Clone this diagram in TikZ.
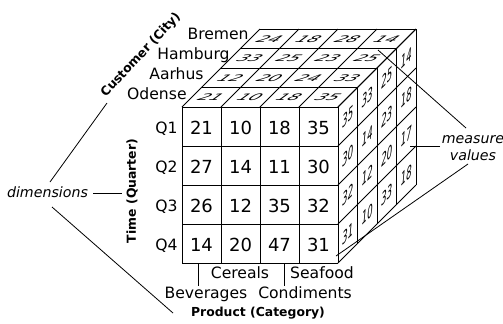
\documentclass[tikz,border=0pt]{standalone}
\usepackage{fontspec}
\setmainfont{DejaVu Sans}
\begin{document}
\begin{tikzpicture}[x=0.5pt,y=-0.5pt,
  grid/.style={line width=0.5pt},
  lead/.style={line width=0.4pt},
  fnum/.style={font=\fontsize{9}{10}\selectfont, inner sep=0pt},
  lab/.style={font=\fontsize{7.8}{9}\selectfont, inner sep=0pt},
  ttl/.style={font=\bfseries\fontsize{6.2}{7}\selectfont, inner sep=0pt},
  ann/.style={font=\itshape\fontsize{7.1}{8}\selectfont, inner sep=0pt},
  topnum/.style={font=\itshape\fontsize{9}{10}\selectfont, inner sep=0pt, cm={1,0,0.5,0.5,(0,0)}},
  sidenum/.style={font=\itshape\fontsize{8.5}{9}\selectfont, inner sep=0pt, cm={0.5,0.5,0,1,(0,0)}},
]
\fill[white] (0,0) rectangle (503,323);
\useasboundingbox (0,0) rectangle (503,323);

% cube grid
\foreach \i in {0,...,4}{
  \draw[grid] ({182+39*\i},107) -- ({182+39*\i},263);
  \draw[grid] (182,{107+39*\i}) -- (338,{107+39*\i});
  \draw[grid] ({182+39*\i},107) -- ({260+39*\i},29);
  \draw[grid] ({182+19.5*\i},{107-19.5*\i}) -- ({338+19.5*\i},{107-19.5*\i});
  \draw[grid] ({338+19.5*\i},{107-19.5*\i}) -- ({338+19.5*\i},{263-19.5*\i});
  \draw[grid] (338,{107+39*\i}) -- (416,{29+39*\i});
}

% front face values
\foreach \v [count=\k from 0] in {21,10,18,35,27,14,11,30,26,12,35,32,14,20,47,31}{
  \pgfmathtruncatemacro\c{mod(\k,4)}
  \pgfmathtruncatemacro\r{div(\k,4)}
  \node[fnum] (f\k) at ({201.5+39*\c},{127.5+39*\r}) {\v};
}
% top face values
\foreach \v [count=\k from 0] in {24,18,28,14,33,25,23,25,12,20,24,33,21,10,18,35}{
  \pgfmathtruncatemacro\c{mod(\k,4)}
  \pgfmathtruncatemacro\r{div(\k,4)}
  \node[topnum] (t\k) at ({182+39*(\c+0.5)+19.5*(3.5-\r)},{107-19.5*(3.5-\r)}) {\v};
}
% right face values
\foreach \v [count=\k from 0] in {35,33,25,14,30,14,23,18,32,12,20,17,31,10,33,18}{
  \pgfmathtruncatemacro\d{mod(\k,4)}
  \pgfmathtruncatemacro\q{div(\k,4)}
  \node[sidenum] (s\k) at ({338+19.5*(\d+0.5)},{107+39*(\q+0.5)-19.5*(\d+0.5)}) {\v};
}

% customer labels
\node[lab, anchor=base east] (bremen) at (249,39) {Bremen};
\node[lab, anchor=base east] (hamburg) at (230,59) {Hamburg};
\node[lab, anchor=base east] (aarhus) at (204,79) {Aarhus};
\node[lab, anchor=base east] (odense) at (187,99) {Odense};

% quarter labels
\foreach \t [count=\r from 0] in {Q1,Q2,Q3,Q4}{
  \node[lab, anchor=base east] (q\r) at (178,{133+39*\r}) {\t};
}

% product labels
\node[lab, anchor=base] (cer) at (240,278) {Cereals};
\node[lab, anchor=base] (sea) at (322,278) {Seafood};
\node[lab, anchor=base] (bev) at (206,298) {Beverages};
\node[lab, anchor=base] (con) at (305,298) {Condiments};
\coordinate (b1) at (198,263);
\coordinate (c1) at (284,263);
\draw[lead] (b1) -- (b1 |- bev.north);
\draw[lead] (c1) -- (c1 |- con.north);

% dimension titles
\node[ttl, anchor=base] (prod) at (258,316) {Product (Category)};
\node[ttl, rotate=90] (time) at (132,191) {Time (Quarter)};
\node[ttl, rotate=47] (cust) at (141,55) {Customer (City)};

% dimensions annotation
\node[ann, anchor=base] (dim) at (47.5,197) {dimensions};
\coordinate (d1) at (50,182);
\coordinate (d1e) at (107,103);
\coordinate (d2) at (93,193);
\coordinate (d2e) at (122,193);
\coordinate (d3) at (52,207);
\coordinate (d3e) at (173,313);
\draw[lead] (d1) -- (d1e);
\draw[lead] (d2) -- (d2e);
\draw[lead] (d3) -- (d3e);

% measure values annotation
\node[ann, anchor=base] (meas) at (473,143) {measure};
\node[ann, anchor=base] (vals) at (473,160) {values};
\coordinate (m1) at (466,128);
\coordinate (m1e) at (378,50);
\coordinate (m2) at (440,146);
\coordinate (m2e) at (410,146);
\coordinate (m3) at (468,164);
\coordinate (m3e) at (336,256);
\draw[lead] (m1) -- (m1e);
\draw[lead] (m2) -- (m2e);
\draw[lead] (m3) -- (m3e);
\end{tikzpicture}
\end{document}
